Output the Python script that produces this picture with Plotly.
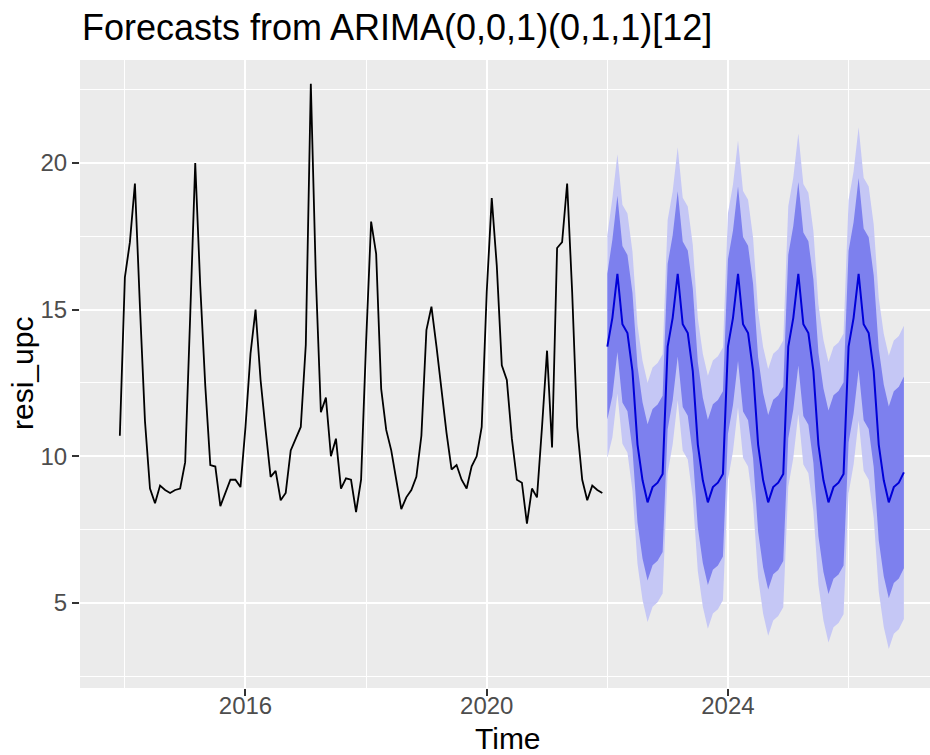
import plotly.graph_objects as go

# ---------------- data ----------------
hist_start = 2013 + 11 / 12          # first observation: Dec 2013 (monthly series)
hist_values = [
    10.7,
    16.1, 17.3, 19.3, 15.1, 11.2, 8.9, 8.4, 9.0, 8.85, 8.75, 8.85, 8.9,      # 2014
    9.8, 14.8, 20.0, 15.8, 12.4, 9.7, 9.65, 8.3, 8.75, 9.2, 9.2, 8.95,       # 2015
    11.0, 13.5, 15.0, 12.6, 10.9, 9.3, 9.5, 8.5, 8.75, 10.2, 10.6, 11.0,     # 2016
    13.8, 22.7, 16.1, 11.5, 12.0, 10.0, 10.6, 8.9, 9.25, 9.2, 8.1, 9.2,      # 2017
    13.9, 18.0, 16.9, 12.3, 10.9, 10.2, 9.2, 8.2, 8.6, 8.85, 9.3, 10.7,      # 2018
    14.3, 15.1, 13.75, 12.2, 10.8, 9.55, 9.7, 9.2, 8.9, 9.66, 10.0, 11.0,    # 2019
    15.6, 18.8, 16.5, 13.1, 12.6, 10.6, 9.2, 9.1, 7.7, 8.9, 8.6, 11.0,       # 2020
    13.6, 10.3, 17.1, 17.3, 19.3, 15.6, 11.0, 9.2, 8.5, 9.0, 8.85, 8.75,     # 2021
]

fc_start = 2022.0
fc_mean = [
    13.74, 14.72, 16.22, 14.5, 14.2, 12.9, 10.4, 9.18, 8.43, 8.95, 9.1, 9.4,   # 2022
    13.74, 14.72, 16.22, 14.5, 14.2, 12.9, 10.4, 9.18, 8.43, 8.95, 9.1, 9.4,   # 2023
    13.74, 14.72, 16.22, 14.5, 14.2, 12.9, 10.4, 9.18, 8.43, 8.95, 9.1, 9.4,   # 2024
    13.74, 14.72, 16.22, 14.5, 14.2, 12.9, 10.4, 9.18, 8.43, 8.95, 9.1, 9.4,   # 2025
    13.74, 14.72, 16.22, 14.5, 14.2, 12.9, 10.4, 9.18, 8.43, 8.95, 9.1, 9.45,  # 2026
]
# forecast standard error per horizon
fc_se = [
    1.94, 2.08, 2.08, 2.08, 2.08, 2.08, 2.08, 2.08, 2.08, 2.08, 2.08, 2.08,
    2.20, 2.20, 2.20, 2.20, 2.20, 2.20, 2.20, 2.20, 2.20, 2.20, 2.20, 2.20,
    2.32, 2.32, 2.32, 2.32, 2.32, 2.32, 2.32, 2.32, 2.32, 2.32, 2.32, 2.32,
    2.44, 2.44, 2.44, 2.44, 2.44, 2.44, 2.44, 2.44, 2.44, 2.44, 2.44, 2.44,
    2.55, 2.55, 2.55, 2.55, 2.55, 2.55, 2.55, 2.55, 2.55, 2.55, 2.55, 2.55,
]
z80, z95 = 1.2816, 1.96

x_ticks = [2016, 2020, 2024]
x_minor = [2014, 2018, 2022, 2026]
y_ticks = [5, 10, 15, 20]
y_minor = [2.5, 7.5, 12.5, 17.5, 22.5]

title_text = "Forecasts from ARIMA(0,0,1)(0,1,1)[12]"
x_title = "Time"
y_title = "resi_upc"

# ---------------- build ----------------
hist_x = [hist_start + i / 12 for i in range(len(hist_values))]
fc_x = [fc_start + i / 12 for i in range(len(fc_mean))]
lo80 = [m - z80 * s for m, s in zip(fc_mean, fc_se)]
hi80 = [m + z80 * s for m, s in zip(fc_mean, fc_se)]
lo95 = [m - z95 * s for m, s in zip(fc_mean, fc_se)]
hi95 = [m + z95 * s for m, s in zip(fc_mean, fc_se)]

FONT = "Liberation Sans, Arial, Helvetica, sans-serif"

fig = go.Figure()
fig.add_trace(go.Scatter(
    x=fc_x + fc_x[::-1], y=hi95 + lo95[::-1], fill="toself",
    fillcolor="#C5C7F5", line=dict(width=0), mode="lines",
    hoverinfo="skip", name="95%"))
fig.add_trace(go.Scatter(
    x=fc_x + fc_x[::-1], y=hi80 + lo80[::-1], fill="toself",
    fillcolor="#7D80EE", line=dict(width=0), mode="lines",
    hoverinfo="skip", name="80%"))
fig.add_trace(go.Scatter(
    x=fc_x, y=fc_mean, mode="lines", line=dict(color="#0000D8", width=2),
    name="forecast"))
fig.add_trace(go.Scatter(
    x=hist_x, y=hist_values, mode="lines", line=dict(color="black", width=1.8),
    name="resi_upc"))

axis_common = dict(
    showgrid=True, gridcolor="white", gridwidth=2.4,
    zeroline=False, showline=False,
    ticks="outside", ticklen=7, tickwidth=2, tickcolor="#333333",
    tickfont=dict(family=FONT, size=24, color="#4D4D4D"),
)

fig.update_xaxes(
    range=[2013.256, 2027.35], tickmode="array", tickvals=x_ticks,
    ticktext=[str(v) for v in x_ticks], ticklabelstandoff=-11,
    minor=dict(tickmode="array", tickvals=x_minor, showgrid=True,
               gridcolor="white", gridwidth=1.2, ticks=""),
    **axis_common)
fig.update_yaxes(
    range=[2.10, 23.51], tickmode="array", tickvals=y_ticks,
    ticktext=[str(v) for v in y_ticks],
    minor=dict(tickmode="array", tickvals=y_minor, showgrid=True,
               gridcolor="white", gridwidth=1.2, ticks=""),
    **axis_common)

fig.update_layout(
    width=930, height=755,
    margin=dict(l=80, r=0, t=60, b=67),
    paper_bgcolor="white", plot_bgcolor="#EBEBEB",
    showlegend=False,
    font=dict(family=FONT),
    title=dict(text=title_text, xref="container", x=82 / 930, xanchor="left",
               yref="container", y=1 - 27 / 755, yanchor="middle",
               font=dict(family=FONT, size=36, color="black")),
    annotations=[
        dict(text=x_title, xref="paper", yref="paper", x=(508 - 80) / 850,
             y=-(738 - 688) / 628, xanchor="center", yanchor="middle",
             showarrow=False, font=dict(family=FONT, size=30, color="black")),
        dict(text=y_title, xref="paper", yref="paper", x=(22 - 80) / 850,
             y=0.5, xanchor="center", yanchor="middle", textangle=-90,
             showarrow=False, font=dict(family=FONT, size=30, color="black")),
    ],
)

fig.write_html("out.html")
